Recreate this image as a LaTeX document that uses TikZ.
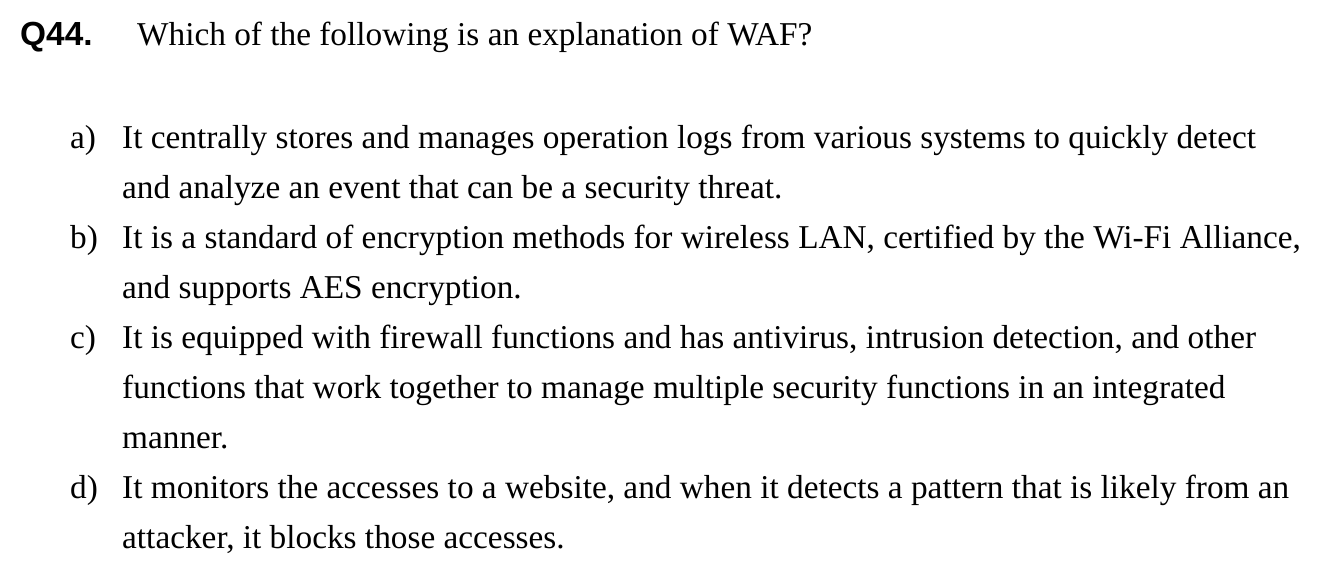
\documentclass[tikz,border=0pt]{standalone}
\usepackage{fontspec}
\setmainfont{Liberation Serif}
\newfontfamily\qfont{Liberation Sans}
\usepackage{tikz}

\begin{document}
\begin{tikzpicture}[x=1pt,y=1pt,
    txt/.style={anchor=base west,inner sep=0pt,font=\fontsize{33.3}{40}\selectfont},
    lbl/.style={txt}]
    \useasboundingbox (0,0) rectangle (1321,-573);
    \node[txt,font=\fontsize{33.4}{40}\selectfont\qfont\bfseries] (qnum) at (20,-45) {Q44.};
    \node[txt] (qtext) at (137,-45) {Which of the following is an explanation of WAF?};
    % options
    \node[lbl] (la) at (70,-148) {a)};
    \node[txt] (a1) at (122,-148) {It centrally stores and manages operation logs from various systems to quickly detect};
    \node[txt] (a2) at (122,-198) {and analyze an event that can be a security threat.};
    \node[lbl] (lb) at (70,-248) {b)};
    \node[txt] (b1) at (122,-248) {It is a standard of encryption methods for wireless LAN, certified by the Wi-Fi Alliance,};
    \node[txt] (b2) at (122,-298) {and supports AES encryption.};
    \node[lbl] (lc) at (70,-348) {c)};
    \node[txt] (c1) at (122,-348) {It is equipped with firewall functions and has antivirus, intrusion detection, and other};
    \node[txt] (c2) at (122,-398) {functions that work together to manage multiple security functions in an integrated};
    \node[txt] (c3) at (122,-448) {manner.};
    \node[lbl] (ld) at (70,-498) {d)};
    \node[txt] (d1) at (122,-498) {It monitors the accesses to a website, and when it detects a pattern that is likely from an};
    \node[txt] (d2) at (122,-548) {attacker, it blocks those accesses.};
\end{tikzpicture}
\end{document}
